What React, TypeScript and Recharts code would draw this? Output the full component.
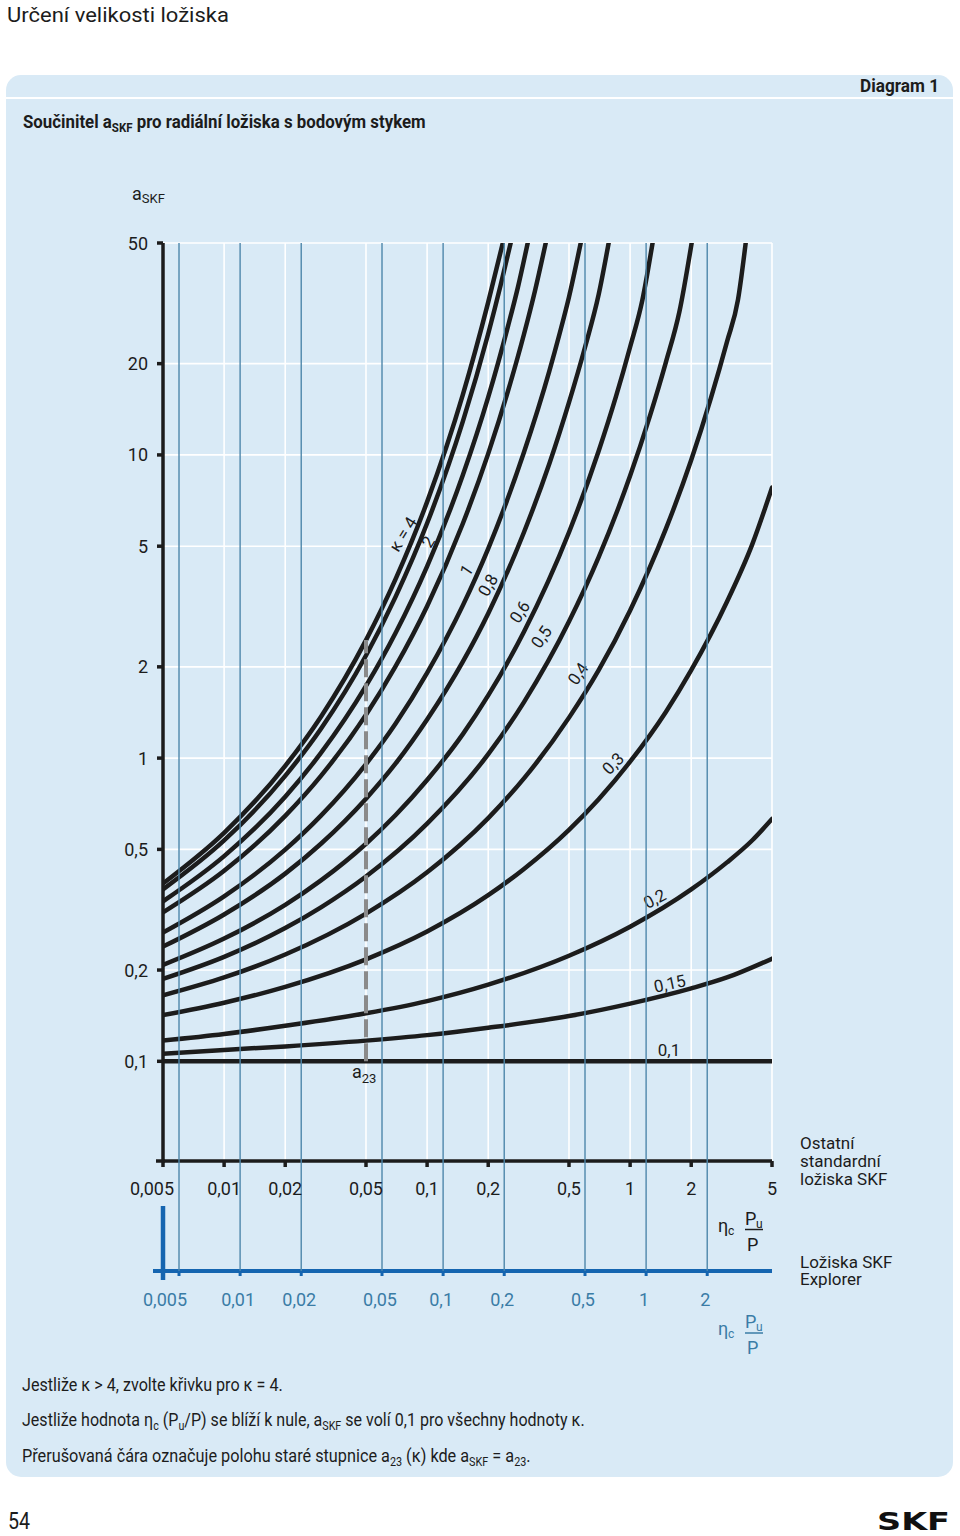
import React from 'react';
import { LineChart, Line, XAxis, YAxis, CartesianGrid, ReferenceLine, ReferenceDot } from 'recharts';

const FONT = 'Roboto, "Open Sans", "DejaVu Sans", sans-serif';
const INK = '#1c1c1c';
const PANEL = '#d9eaf6';
const BLUE_AXIS = '#1565b0';
const BLUE_GRID = '#4e87ab';
const BLUE_TEXT = '#3a7ca6';
const DASH = '#8a8a8a';
const TOP = 243;

// ηc·Pu/P ticks: upper scale (standard bearings), lower scale (SKF Explorer)
const stdTicks = [0.005, 0.01, 0.02, 0.05, 0.1, 0.2, 0.5, 1, 2, 5];
const expTicks = [0.005, 0.01, 0.02, 0.05, 0.1, 0.2, 0.5, 1, 2];
const yTicks = [0.1, 0.2, 0.5, 1, 2, 5, 10, 20, 50];

// curves, [ηc·Pu/P (upper scale), aSKF]
const kappa4 = [[0.005, 0.386], [0.01, 0.567], [0.02, 0.943], [0.03, 1.37], [0.05, 2.45], [0.07, 3.9], [0.1, 7.0], [0.15, 15.8], [0.2, 31.9], [0.236, 50]];
const kappa3 = [[0.005, 0.369], [0.01, 0.535], [0.02, 0.874], [0.03, 1.25], [0.05, 2.18], [0.07, 3.41], [0.1, 5.95], [0.15, 12.9], [0.2, 25.1], [0.23, 36.2], [0.258, 50]];
const kappa2 = [[0.005, 0.337], [0.01, 0.475], [0.02, 0.746], [0.03, 1.04], [0.05, 1.73], [0.07, 2.59], [0.1, 4.29], [0.15, 8.58], [0.2, 15.5], [0.25, 26.5], [0.28, 35.7], [0.313, 50]];
const kappa15 = [[0.005, 0.31], [0.01, 0.425], [0.02, 0.645], [0.03, 0.874], [0.05, 1.39], [0.07, 2.01], [0.1, 3.17], [0.15, 5.94], [0.2, 10.1], [0.25, 16.2], [0.3, 25.0], [0.34, 34.8], [0.384, 50]];
const kappa1 = [[0.005, 0.266], [0.01, 0.35], [0.02, 0.499], [0.03, 0.646], [0.05, 0.956], [0.07, 1.3], [0.1, 1.91], [0.15, 3.19], [0.2, 4.91], [0.3, 10.2], [0.4, 18.9], [0.45, 25.2], [0.5, 33.2], [0.571, 50]];
const kappa08 = [[0.005, 0.239], [0.01, 0.305], [0.02, 0.416], [0.03, 0.522], [0.05, 0.735], [0.07, 0.96], [0.1, 1.34], [0.15, 2.08], [0.2, 3.0], [0.3, 5.56], [0.4, 9.35], [0.5, 14.9], [0.6, 22.7], [0.7, 33.8], [0.784, 50]];
const kappa06 = [[0.005, 0.208], [0.01, 0.254], [0.02, 0.328], [0.03, 0.395], [0.05, 0.522], [0.07, 0.649], [0.1, 0.847], [0.15, 1.2], [0.2, 1.61], [0.3, 2.61], [0.5, 5.56], [0.7, 10.3], [0.85, 15.5], [1, 22.7], [1.15, 32.5], [1.29, 50]];
const kappa05 = [[0.005, 0.187], [0.01, 0.221], [0.02, 0.275], [0.03, 0.322], [0.05, 0.407], [0.1, 0.608], [0.2, 1.03], [0.3, 1.53], [0.5, 2.82], [0.7, 4.6], [1, 8.53], [1.25, 13.4], [1.5, 20.2], [1.75, 29.7], [2.01, 50]];
const kappa04 = [[0.005, 0.165], [0.01, 0.189], [0.02, 0.225], [0.05, 0.307], [0.1, 0.42], [0.2, 0.634], [0.3, 0.857], [0.5, 1.36], [0.7, 1.95], [1, 3.07], [1.5, 5.7], [2, 9.62], [2.5, 15.4], [3, 23.6], [3.4, 32.5], [3.71, 50]];
const kappa03 = [[0.005, 0.142], [0.01, 0.156], [0.02, 0.176], [0.05, 0.217], [0.1, 0.268], [0.2, 0.353], [0.3, 0.431], [0.5, 0.58], [0.7, 0.732], [1, 0.973], [1.5, 1.42], [2, 1.95], [3, 3.28], [4, 5.08], [5, 7.8]];
const kappa02 = [[0.005, 0.117], [0.01, 0.123], [0.02, 0.131], [0.05, 0.144], [0.1, 0.158], [0.2, 0.179], [0.5, 0.223], [1, 0.278], [2, 0.369], [3, 0.453], [4, 0.536], [5, 0.63]];
const kappa015 = [[0.005, 0.106], [0.01, 0.109], [0.02, 0.112], [0.05, 0.117], [0.1, 0.122], [0.2, 0.129], [0.5, 0.141], [1, 0.155], [2, 0.174], [3, 0.189], [5, 0.218]];
const kappa01 = [[0.005, 0.1], [5, 0.1]];

// old a23 scale position
const a23Line = [[0.05, 0.1], [0.05, 2.45]];

const curves = [kappa4, kappa3, kappa2, kappa15, kappa1, kappa08, kappa06, kappa05, kappa04, kappa03, kappa02, kappa015, kappa01].map(
  (rows) => rows.map(([x, a]) => ({ x, a }))
);

const curveLabels = [
  { text: 'κ = 4', x: 0.0761, y: 5.48, rot: -58 },
  { text: '2', x: 0.101, y: 5.17, rot: -58 },
  { text: '1', x: 0.1562, y: 4.17, rot: -56 },
  { text: '0,8', x: 0.1995, y: 3.72, rot: -60 },
  { text: '0,6', x: 0.2858, y: 3.04, rot: -56 },
  { text: '0,5', x: 0.3655, y: 2.51, rot: -55 },
  { text: '0,4', x: 0.5535, y: 1.9, rot: -55 },
  { text: '0,3', x: 0.8236, y: 0.96, rot: -45 },
  { text: '0,2', x: 1.321, y: 0.344, rot: -28 },
  { text: '0,15', x: 1.567, y: 0.1805, rot: -12 },
  { text: '0,1', x: 1.555, y: 0.1087, rot: 0 },
];

const fmt = (v: number) => String(v).replace('.', ',');

const YTick = (p: any) => (
  <text x={p.x} y={p.y + 6.5} textAnchor="end" fontSize={18} fill={INK} fontFamily={FONT}>
    {fmt(p.payload.value)}
  </text>
);

const StdTick = (p: any) => (
  <text x={p.x + (p.index === 0 ? -11 : 0)} y={p.y + 28} textAnchor="middle" fontSize={18} fill={INK} fontFamily={FONT}>
    {fmt(p.payload.value)}
  </text>
);

const ExpTick = (p: any) => {
  const axisY = p.y - 5;
  return (
    <g>
      <line x1={p.x} x2={p.x} y1={TOP} y2={axisY} stroke={BLUE_GRID} strokeWidth={1.4} />
      <text x={p.x + (p.index === 0 ? -14 : -2)} y={p.y + 30} textAnchor="middle" fontSize={18} fill={BLUE_TEXT} fontFamily={FONT}>
        {fmt(p.payload.value)}
      </text>
    </g>
  );
};

function Fraction({ x, y, color }: { x: number; y: number; color: string }) {
  return (
    <g fill={color} fontFamily={FONT}>
      <text x={x} y={y + 2} fontSize={18}>η</text>
      <text x={x + 10} y={y + 5} fontSize={12}>c</text>
      <text x={x + 27} y={y - 5} fontSize={18}>P</text>
      <text x={x + 38} y={y - 2} fontSize={12}>u</text>
      <line x1={x + 27} x2={x + 45} y1={y} y2={y} stroke={color} strokeWidth={1.5} />
      <text x={x + 29} y={y + 21} fontSize={18}>P</text>
    </g>
  );
}

// squeezes a line of text horizontally to the width it has in the reference
function FitText({ x, y, width, size = 18, weight = 400, children }: { x: number; y: number; width: number; size?: number; weight?: number; children: React.ReactNode }) {
  const ref = React.useRef<SVGTextElement>(null);
  const [k, setK] = React.useState(1);
  React.useLayoutEffect(() => {
    const w = ref.current ? ref.current.getComputedTextLength() : 0;
    if (w > 0) setK(width / w);
  }, [width]);
  return (
    <g transform={`translate(${x} ${y}) scale(${k} 1)`}>
      <text ref={ref} x={0} y={0} fontSize={size} fontWeight={weight} fill={INK} fontFamily={FONT}>
        {children}
      </text>
    </g>
  );
}

export default function App() {
  return (
    <div style={{ position: 'absolute', left: 0, top: 0, width: 960, height: 1536, background: '#fff', fontFamily: FONT, overflow: 'hidden' }}>
      <svg width={960} height={1536} style={{ position: 'absolute', left: 0, top: 0 }}>
        <FitText x={7} y={22} width={222} size={21}>Určení velikosti ložiska</FitText>
        <rect x={6} y={75} width={947} height={1402} rx={15} fill={PANEL} />
        <line x1={6} x2={953} y1={98} y2={98} stroke="#fff" strokeWidth={2} />
        <text x={939} y={92} fontSize={18} fontWeight={700} fill={INK} textAnchor="end" textLength={79} lengthAdjust="spacingAndGlyphs">Diagram 1</text>
        <FitText x={23} y={128} width={403} size={19} weight={700}>
          Součinitel a<tspan fontSize={13} dy={4}>SKF</tspan><tspan dy={-4}> pro radiální ložiska s bodovým stykem</tspan>
        </FitText>
        <text x={132} y={200} fontSize={18} fill={INK}>
          a<tspan fontSize={13} dy={3}>SKF</tspan>
        </text>
        {/* blue Explorer bar */}
        <line x1={163} x2={163} y1={1206} y2={1280} stroke={BLUE_AXIS} strokeWidth={4.5} />
        <line x1={153} x2={165} y1={1271} y2={1271} stroke={BLUE_AXIS} strokeWidth={4} />
        <line x1={156} x2={165} y1={1161} y2={1161} stroke={INK} strokeWidth={3.5} />
        <g fontSize={17} fill={INK}>
          <text x={800} y={1149}>Ostatní</text>
          <text x={800} y={1167}>standardní</text>
          <text x={800} y={1185}>ložiska SKF</text>
          <text x={800} y={1268}>Ložiska SKF</text>
          <text x={800} y={1285}>Explorer</text>
        </g>
        <Fraction x={718} y={1229.5} color={INK} />
        <Fraction x={718} y={1333} color={BLUE_TEXT} />
        <FitText x={22} y={1391} width={261}>Jestliže κ &gt; 4, zvolte křivku pro κ = 4.</FitText>
        <FitText x={22} y={1426} width={563}>
          Jestliže hodnota η<tspan fontSize={12} dy={4}>c</tspan><tspan dy={-4}> (P</tspan><tspan fontSize={12} dy={4}>u</tspan><tspan dy={-4}>/P) se blíží k nule, a</tspan><tspan fontSize={12} dy={4}>SKF</tspan><tspan dy={-4}> se volí 0,1 pro všechny hodnoty κ.</tspan>
        </FitText>
        <FitText x={22} y={1462} width={509}>
          Přerušovaná čára označuje polohu staré stupnice a<tspan fontSize={12} dy={4}>23</tspan><tspan dy={-4}> (κ) kde a</tspan><tspan fontSize={12} dy={4}>SKF</tspan><tspan dy={-4}> = a</tspan><tspan fontSize={12} dy={4}>23</tspan><tspan dy={-4}>.</tspan>
        </FitText>
        <text x={8} y={1529} fontSize={24} fill={INK} textLength={22} lengthAdjust="spacingAndGlyphs">54</text>
        <text x={877} y={1530} fontSize={25} fontWeight={900} fill="#111" fontFamily='"DejaVu Sans", sans-serif' textLength={73} lengthAdjust="spacingAndGlyphs">SKF</text>
      </svg>

      <div style={{ position: 'absolute', left: 0, top: 0 }}>
        <LineChart width={960} height={1340} margin={{ top: TOP, right: 188, bottom: 29, left: 103 }}>
          <CartesianGrid xAxisId="std" stroke="#ffffff" strokeWidth={1.6} />
          <XAxis
            xAxisId="xp"
            dataKey="x"
            type="number"
            scale="log"
            domain={[0.00417, 4.17]}
            allowDataOverflow
            ticks={expTicks}
            interval={0}
            height={40}
            tickSize={5}
            tickMargin={0}
            axisLine={{ stroke: BLUE_AXIS, strokeWidth: 4 }}
            tickLine={{ stroke: BLUE_AXIS, strokeWidth: 3 }}
            tick={<ExpTick />}
          />
          <XAxis
            xAxisId="std"
            dataKey="x"
            type="number"
            scale="log"
            domain={[0.005, 5]}
            allowDataOverflow
            ticks={stdTicks}
            interval={0}
            height={110}
            tickSize={6}
            tickMargin={0}
            axisLine={{ stroke: INK, strokeWidth: 3.5 }}
            tickLine={{ stroke: INK, strokeWidth: 3.5 }}
            tick={<StdTick />}
          />
          <YAxis
            type="number"
            scale="log"
            domain={[0.0469, 50]}
            allowDataOverflow
            ticks={yTicks}
            interval={0}
            width={60}
            tickSize={6}
            tickMargin={9}
            axisLine={{ stroke: INK, strokeWidth: 3.5 }}
            tickLine={{ stroke: INK, strokeWidth: 3.5 }}
            tick={<YTick />}
          />
          {curves.map((pts, i) => (
            <Line
              key={i}
              xAxisId="std"
              data={pts}
              dataKey="a"
              type="monotone"
              stroke={INK}
              strokeWidth={4.5}
              strokeLinecap="round"
              dot={false}
              activeDot={false}
              isAnimationActive={false}
            />
          ))}
          <ReferenceLine
            xAxisId="std"
            segment={a23Line.map(([x, y]) => ({ x, y }))}
            stroke={DASH}
            strokeWidth={4}
            strokeDasharray="18 6"
          />
          {curveLabels.map((l) => (
            <ReferenceDot
              key={l.text}
              xAxisId="std"
              x={l.x}
              y={l.y}
              r={0}
              ifOverflow="visible"
              shape={(p: any) => (
                <text
                  x={p.cx}
                  y={p.cy}
                  transform={`rotate(${l.rot} ${p.cx} ${p.cy})`}
                  textAnchor="middle"
                  dominantBaseline="central"
                  fontSize={17}
                  fill={INK}
                  fontFamily={FONT}
                >
                  {l.text}
                </text>
              )}
            />
          ))}
        </LineChart>
      </div>

      <svg width={960} height={1536} style={{ position: 'absolute', left: 0, top: 0, pointerEvents: 'none' }}>
        <text x={352} y={1078} fontSize={18} fill={INK} fontFamily={FONT}>
          a<tspan fontSize={13} dy={5}>23</tspan>
        </text>
      </svg>
    </div>
  );
}
